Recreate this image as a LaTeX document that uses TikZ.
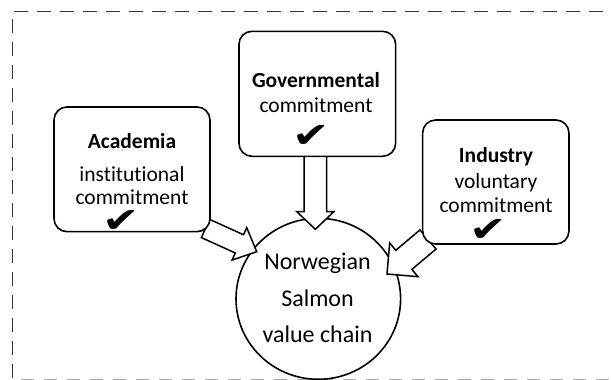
\documentclass[tikz,border=0pt]{standalone}
\usepackage{fontspec}
\setmainfont{Carlito}[Ligatures=NoCommon]
\newfontfamily\checkfont{DejaVu Sans}
\usetikzlibrary{calc,shapes.geometric}

\tikzset{
  frametop/.style={line width=1.4pt, draw=black!80, dash pattern=on 14pt off 9pt},
  framebottom/.style={line width=1pt, draw=black!35, dash pattern=on 13pt off 10pt},
  cbox/.style={draw, line width=1.6pt, rounded corners=13pt, fill=white, inner sep=0pt},
  hub/.style={draw, ellipse, line width=1.6pt, fill=white, inner sep=0pt,
              minimum width=164.6pt, minimum height=161pt},
  boxtxt/.style={anchor=base, inner sep=0pt, font=\fontsize{21.5}{24}\selectfont},
  boxttl/.style={anchor=base, inner sep=0pt, font=\bfseries\fontsize{21.5}{24}\selectfont},
  hubtxt/.style={anchor=base, inner sep=0pt, font=\fontsize{24}{28}\selectfont},
  tick/.style={anchor=base, inner sep=0pt, font=\checkfont\fontsize{35}{35}\selectfont},
  blockarrow/.style={draw, fill=white, line width=1.5pt, line join=miter}
}

% a wide heavy check mark
\newcommand\widecheck{\scalebox{1.28}[1]{✔}}

% hollow block arrow: tail, tip, shaft half width, head half width, head length
\newcommand\hollowarrow[5]{%
  \coordinate (ha-base) at ($(#2)!#5!(#1)$);
  \draw[blockarrow]
    ($(#1)!#3!90:(#2)$) -- ($(ha-base)!#3!90:(#2)$) -- ($(ha-base)!#4!90:(#2)$)
    -- (#2)
    -- ($(ha-base)!#4!-90:(#2)$) -- ($(ha-base)!#3!-90:(#2)$) -- ($(#1)!#3!-90:(#2)$)
    -- cycle;
}

\begin{document}
\begin{tikzpicture}[x=1pt, y=-1pt]
  \useasboundingbox (0,0) rectangle (611,380);
  \clip (0,0) rectangle (611,380);

  % dashed frame (right side runs off the page)
  \draw[frametop] (14,11.5) -- (620,11.5);
  \draw[frametop, dash pattern=on 13.5pt off 9.5pt] (12.7,19) -- (12.7,390);
  \draw[framebottom] (21,379) -- (620,379);

  % value chain hub
  \node[hub] (hub) at (318.3,298.8) {};
  \node[hubtxt] (hub1) at (317.5,269.3) {Norwegian};
  \node[hubtxt] (hub2) at (317.5,306) {Salmon};
  \node[hubtxt] (hub3) at (317.5,342.7) {value chain};

  % arrow end points
  \coordinate (govOut) at (315.3,156);
  \coordinate (govIn)  at (315.3,229.3);
  \coordinate (acaOut) at (205.5,228.5);
  \coordinate (acaIn)  at (256.7,251.7);
  \coordinate (indOut) at (428,239.5);
  \coordinate (indIn)  at (387,274);

  % arrows into the hub; their tails disappear under the boxes
  \hollowarrow{govOut}{govIn}{11.3pt}{18.5pt}{17.6pt}
  \hollowarrow{acaOut}{acaIn}{10pt}{17.8pt}{19pt}
  \hollowarrow{indOut}{indIn}{12.5pt}{22pt}{22pt}

  % commitment boxes
  \node[cbox, minimum width=156pt, minimum height=124.7pt] (aca) at (132,169.3) {};
  \node[cbox, minimum width=156.7pt, minimum height=125pt] (gov) at (317.3,93.8) {};
  \node[cbox, minimum width=146.3pt, minimum height=124pt] (ind) at (495.8,182) {};

  % box texts
  \node[boxttl] (acaT) at (132,148) {Academia};
  \node[boxtxt] (aca1) at (132,181.3) {institutional};
  \node[boxtxt] (aca2) at (132,204) {commitment};
  \node[tick]   (acaC) at (121,232) {\widecheck};

  \node[boxttl] (govT) at (316,87.3) {Governmental};
  \node[boxtxt] (gov1) at (316,112) {commitment};
  \node[tick]   (govC) at (311.5,147) {\widecheck};

  \node[boxttl] (indT) at (496,162.7) {Industry};
  \node[boxtxt] (ind1) at (496,188.7) {voluntary};
  \node[boxtxt] (ind2) at (496,212.7) {commitment};
  \node[tick]   (indC) at (488.5,241) {\widecheck};
\end{tikzpicture}
\end{document}
